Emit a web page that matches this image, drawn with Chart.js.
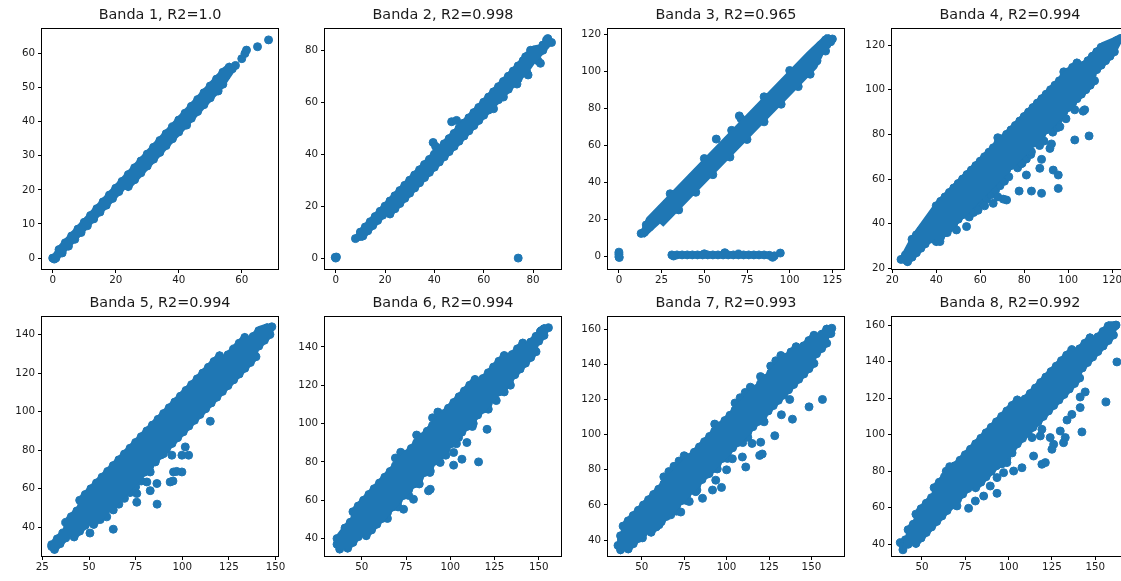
<!DOCTYPE html>
<html>
<head>
<meta charset="utf-8">
<script src="https://cdn.jsdelivr.net/npm/chart.js@4.4.0/dist/chart.umd.min.js"></script>
<style>
html, body { margin: 0; padding: 0; background: #fff; overflow: hidden; }
#fig { position: relative; width: 1121px; height: 581px; overflow: hidden; }
#fig canvas { position: absolute; }
</style>
</head>
<body>
<div id="fig"></div>
<script>
// pontos: bordas das faixas densas, miolo e pontos isolados
// bordaSup / bordaInf: contorno da parte densa de cada faixa (preenchido)

// Banda 1
const banda1 = [
  [0,0],[0.5,-0.3],[2,2.5],[4,4.5],[6,6.5],[8,8.5],[10,10.5],[12,12.5],[14,14.5],[16,16.5],[18,18.5],[20,20.5],[22,22.5],[24,24.5],[26,26.5],[28,28.5],[30,30.5],[32,32.5],[34,34.5],[36,36.5],[38,38.5],[40,40.5],[42,42.5],[44,44.5],[46,46.5],[48,48.5],[50,50.5],[52,52.5],[54,54.5],[56,56],
  [1,0],[3,1.5],[5,3.5],[7,5.5],[9,7.5],[11,9.5],[13,11.5],[15,13.5],[17,15.5],[19,17.5],[21,19.5],[23,21.5],
  [25,23.5],[27,25.5],[29,27.5],[31,29.5],[33,31.5],[35,33.5],[37,35.5],[39,37.5],[41,39.5],[43,41.5],[45,43.5],[47,45.5],[49,47.5],[51,49.5],[53,51.5],[55,53.5],[57,55.5],
  [24,21],[26,23],[28,25],[30,27],[32,29],[34,31],[36,33],[38,35],[40,37],[42,39],[44,41],[46,43],[48,45],[50,47],[52,49],[54,51],
  [42.5,39],[52.5,49],[58,56.5],[60,58.5],[61,60],[61.5,61],[65,62],[68.5,64]
];
const bordaSup1 = [[-0.3,0.8],[2,3.9],[54,55.9],[56,57.4],[57.6,56.5]];
const bordaInf1 = [[-0.3,-0.6],[1,-1.4],[23,20.1],[24,19.6],[54,49.6],[57.6,54.5]];

// Banda 2
const banda2 = [
  [0,0],[0.3,0.4],[-0.2,0.3],[74,0],
  [8,7.5],[10,10],[12,12],[14,14],[16,16],[18,18],[20,20],[22,22],[24,24],[26,26],[28,28],[30,30],[32,32],[34,34],[36,36],[38,38],[40,40],[42,42],[44,44],[46,46],[48,48],[50,50],[52,52],[54,54],[56,56],[58,58],[60,60],[62,62],[64,64],[66,66],[68,68],[70,70],[72,72],[74,74],[76,76],[78,78],[80,80],
  [11,8.5],[13,10.5],[15,12.5],[17,14.5],[19,16.5],[21,18.5],[75,72.5],[77,74.5],[79,76.5],[81,78.5],[83,80.5],
  [22,17],[24,19],[26,21],[28,23],[30,25],[32,27],[34,29],[36,31],[38,33],[40,35],[42,37],[44,39],[46,41],[48,43],[50,45],[52,47],[54,49],[56,51],[58,53],[60,55],[62,57],[66,61],[70,65],[74,69],
  [64,57.5],[62.5,60.5],[68,62],[70,66.5],[73.5,67],[77.5,71.5],[78,70.5],[82,76],[83,75],[84,80],[79,80],[85.5,84],[87.5,83],[77,77.5],[75,74],[86,84.5],[84,82],[81,79],
  [39.5,44.5],[40.5,43],[47,52.5],[49,53]
];
const bordaSup2 = [[7.5,8.5],[10,11.8],[80,81.8],[83,82.3],[85.5,85.8],[88,84]];
const bordaInf2 = [[7.5,6.5],[11,6.7],[21,16.7],[22,15.2],[62,55.2],[66,59.2],[70,63.2],[74,67.2],[78,71.2],[81,75.2],[85,79.2],[88,82.5]];

// Banda 3
const banda3 = [
  [0,0],[0,1.2],[0,2.5],[0.2,-0.4],
  [31,1],[34,1],[37,1],[40,1],[43,1],[46,1],[49,1],[52,1],[55,1],[58,1],[61,1],[64,1],[67,1],[70,1],[73,1],[76,1],[79,1],[82,1],[85,1],[88,0.8],[91,0.5],[62,2.2],[94.5,2],[90,-0.3],[32,0.4],[50,1.6],[70,1.5],
  [13,12.6],[14.5,13],
  [16,17.2],[19,20.1],[22,22.9],[25,25.8],[28,28.6],[31,31.5],[34,34.3],[37,37.2],[40,40],[43,42.9],[46,45.7],[49,48.6],[52,51.4],[55,54.3],[58,57.1],[61,60],[64,62.8],[67,65.7],[70,68.5],[73,71.4],[76,74.2],[79,77.1],[82,79.9],[85,82.8],[88,85.6],[91,88.5],[94,91.3],[97,94.2],[100,97],[103,99.9],[106,102.7],[109,105.6],[112,108.4],[115,111.3],[118,114.1],[121,117],
  [15,13.3],[18,16.1],[21,19],[24,21.8],[120,113],
  [26,20.2],[29,23.1],[32,25.9],[35,28.8],[38,31.6],[41,34.5],[44,37.3],[47,40.2],[50,43],[53,45.9],[56,48.7],[59,51.6],[62,54.4],[65,57.3],[68,60.1],[71,63],[74,65.8],[77,68.7],[80,71.5],[83,74.4],[86,77.2],[89,80.1],[92,82.9],[95,85.8],[98,88.6],[101,91.5],[104,94.3],[107,97.2],[110,100],[113,102.9],[116,105.7],
  [35,25.3],[45,34.8],[55,44.3],[65,53.8],[75,63.3],[85,72.8],[95,82.3],[105,91.8],[112,98.5],
  [30,34],[50,53],[66,68.2],[85,86.3],[100,100.5],
  [57,63.5],[70.5,76],[71.5,74.5],[121,111],[119.5,112.5],[123,117.5],[125,117.5],[124,116]
];
const bordaSup3 = [[12.5,13.5],[16,21],[110,110.5],[121,120],[123,120],[125.5,118.5]];
const bordaInf3 = [[12.5,11.5],[15,10.3],[24,17.8],[26,16.2],[116,101.7],[120,109.5],[124,113],[125.5,116.5]];

// Banda 4
const banda4 = [
  [40,48],[42,50],[44,52],[46,54],[48,56],[50,58],[52,60],[54,62],[56,64],[58,66],[60,68],[62,70],[64,72],[66,74],[68,76],[70,78],[72,80],[74,82],[76,84],[78,86],[80,88],[82,90],[84,92],[86,94],[88,96],[90,98],[92,100],[94,102],[96,104],[98,106],[100,108],[102,110],[104,112],
  [68,78.5],[98,108],[123,122.5],[124,123],
  [29,33],[31,35],[33,37],[35,39],[37,41],[39,43],[105,109],[107,111],[109,113],[111,115],[113,117],[115,119],
  [24,24],[26,26],[28,28],[116,116],[118,118],[120,120],[122,122],
  [27,23],[29,25],[31,27],[33,29],[35,31],[37,33],[39,35],[113,109],[115,111],[117,113],[119,115],[121,117],
  [40,32],[42,34],[44,36],[46,38],[48,40],[50,42],[52,44],[54,46],[56,48],[58,50],[60,52],[62,54],[64,56],[66,58],[68,60],[70,62],[72,64],[74,66],[76,68],[78,70],[80,72],[82,74],[84,76],[86,78],[88,80],[90,82],[92,84],[94,86],[96,88],[98,90],[100,92],[102,94],[104,96],[106,98],[108,100],[110,102],[112,104],
  [55,43],[57,45],[59,47],[61,49],[63,51],[65,53],[67,55],[69,57],[71,59],[73,61],[77,65],[79,67],[81,69],[83,71],[87,75],[89,77],[93,81],[95,83],[99,87],[103,91],
  [106.8,90.4],[107.5,91],[109.5,79.3],[103,77.5],[96.2,83.4],[95.5,86.4],[91.7,73.7],[92.4,75.7],[87,76],[83.3,72.2],[87.9,68.8],[87.1,64.8],[81,61.8],[78.8,67],[93.2,64],[95.5,61.8],[95.5,55.8],[87.9,53.6],[83.3,54.6],[77.7,54.6],[72,50.6],[70.5,51],[65.9,49.1],[59,46],[53.8,38.7],[49.2,37.2],[41.7,32],[45,36],[62,48],[68,52]
];
const bordaSup4 = [[23.5,25],[29,35.1],[40,50.1],[104,114.1],[105,111.1],[115,121.1],[122,124.1],[124.5,123.5]];
const bordaInf4 = [[23.5,23],[27,20.9],[39,32.9],[40,29.9],[112,101.9],[113,106.9],[121,114.9],[124.5,121.5]];

// Banda 5
const banda5 = [
  [45,54],[48,57],[51,60],[54,63],[57,66],[60,69],[63,72],[66,75],[69,78],[72,81],[75,84],[78,87],[81,90],[84,93],[87,96],[90,99],[93,102],[96,105],[99,108],[102,111],[105,114],[108,117],[111,120],[114,123],[117,126],[120,129],
  [37.5,42.5],[40.5,45.5],[43.5,48.5],[121.5,126.5],[124.5,129.5],[127.5,132.5],[130.5,135.5],[133.5,138.5],
  [30,31],[33,34],[36,37],[135,136],[138,139],[141,142],
  [31.5,28.5],[34.5,31.5],[37.5,34.5],[40.5,37.5],
  [42,35],[45,38],[48,41],[51,44],[141,134],[144,137],[147,140],
  [52.5,41.5],[55.5,44.5],[58.5,47.5],[61.5,50.5],[64.5,53.5],[67.5,56.5],[70.5,59.5],[73.5,62.5],[76.5,65.5],[79.5,68.5],[82.5,71.5],[85.5,74.5],[88.5,77.5],[91.5,80.5],[94.5,83.5],[97.5,86.5],[100.5,89.5],[103.5,92.5],[106.5,95.5],[109.5,98.5],[112.5,101.5],[115.5,104.5],[118.5,107.5],[121.5,110.5],[124.5,113.5],[127.5,116.5],[130.5,119.5],[133.5,122.5],[136.5,125.5],[139.5,128.5],
  [63,49],[66,52],[69,55],[72,58],[75,61],[78,64],
  [147,143],[148,144],[145.5,143.5],[30,30],
  [115,95],[86.5,52],[63,39],[50.5,37],[59.5,45.4],[56,44],[75.6,53],[75.6,57.5],[81,63.5],[82.8,59],[86.4,62.7],[82.8,68.7],[85.5,73.9],[89.9,78.2],[94.4,77.4],[99.8,77.4],[101.6,81.7],[103.4,77.4],[95.3,68.7],[93.5,63.5],[99.8,68.7],[97,69],[95,64]
];
const bordaSup5 = [[29.5,30.5],[30,33.4],[36,39.4],[37.5,44.9],[43.5,50.9],[45,56.4],[120,131.4],[121.5,128.9],[133.5,140.9],[135,138.4],[141,144.4],[145.5,145.9],[148.5,144.5]];
const bordaInf5 = [[29.5,29],[31.5,26.1],[40.5,35.1],[42,32.6],[51,41.6],[52.5,39.1],[139.5,126.1],[141,131.6],[147,137.6],[148.5,142.5]];

// Banda 6
const banda6 = [
  [45,54],[48,57],[51,60],[54,63],[57,66],[60,69],[63,72],[66,75],[69,78],[72,81],[75,84],[78,87],[81,90],[84,93],[87,96],[90,99],[93,102],[96,105],[99,108],[102,111],[105,114],[108,117],[111,120],[114,123],
  [69,82],[72,85],[81,94],[90,103],[93,106],
  [40.5,45.5],[43.5,48.5],[115.5,120.5],[118.5,123.5],[121.5,126.5],[124.5,129.5],[127.5,132.5],[130.5,135.5],
  [36,37],[39,40],[132,133],[135,136],[138,139],[141,142],
  [37.5,34.5],[40.5,37.5],[142.5,139.5],[145.5,142.5],[148.5,145.5],[151.5,148.5],
  [42,35],[45,38],[48,41],[51,44],[150,143],[153,146],
  [52.5,41.5],[55.5,44.5],[58.5,47.5],[61.5,50.5],[64.5,53.5],[67.5,56.5],[70.5,59.5],[73.5,62.5],[76.5,65.5],[79.5,68.5],[82.5,71.5],[85.5,74.5],[88.5,77.5],[91.5,80.5],[94.5,83.5],[97.5,86.5],[100.5,89.5],[103.5,92.5],[106.5,95.5],[109.5,98.5],[112.5,101.5],[115.5,104.5],[118.5,107.5],[121.5,110.5],[124.5,113.5],[127.5,116.5],[130.5,119.5],[133.5,122.5],[136.5,125.5],[139.5,128.5],[142.5,131.5],[145.5,134.5],[148.5,137.5],
  [64.5,50.5],[70.5,56.5],[76.5,62.5],[82.5,68.5],[88.5,74.5],[97.5,83.5],[103.5,89.5],[112.5,98.5],[121.5,107.5],[130.5,116.5],
  [155.5,150],[153,149.5],[151,148],[36,40],[37.5,36.5],
  [120.8,97],[116,80],[101.9,78.3],[106.6,81.4],[101.9,84.9],[109.4,90.1],[104.7,92.7],[134,120],[122.6,114.4],[93.4,83.1],[88.7,75.3],[88.7,65.7],[87.7,64.9],[79.2,60.5],[73.6,55.3],[71.7,62.3],[94.3,79.7],[66,57],[62.3,51.8],[52.8,44.9],[81.1,70.1],[113,100],[126,112]
];
const bordaSup6 = [[35.5,37],[36,42.4],[40.5,47.9],[43.5,50.9],[45,56.4],[114,125.4],[115.5,122.9],[130.5,137.9],[132,135.4],[141,144.4],[142.5,141.9],[151.5,150.9],[153,151.9],[156,150.5]];
const bordaInf6 = [[35.5,36],[37.5,32.1],[40.5,35.1],[42,32.6],[51,41.6],[52.5,39.1],[148.5,135.1],[150,140.6],[153,143.6],[156,148.5]];

// Banda 7
const banda7 = [
  [39,48],[42,51],[45,54],[48,57],[51,60],[54,63],[57,66],[60,69],[63,72],[66,75],[69,78],[72,81],[75,84],[78,87],[81,90],[84,93],[87,96],[90,99],[93,102],[96,105],[99,108],[102,111],[105,114],[108,117],[111,120],[114,123],[117,126],[120,129],[123,132],[126,135],[129,138],[132,141],[135,144],[138,147],[141,150],
  [63,76],[66,79],[69,82],[72,85],[75,88],[93,106],[105,118],[108,121],[111,124],[114,127],[120,133],[126,139],[129,142],[132,145],
  [37.5,42.5],[142.5,147.5],[145.5,150.5],[148.5,153.5],[151.5,156.5],
  [36,37],[153,154],[156,157],[159,160],
  [37.5,34.5],[40.5,37.5],[154.5,151.5],[157.5,154.5],[160.5,157.5],
  [42,35],[45,38],[48,41],[51,44],[54,47],[153,146],[156,149],[159,152],
  [55.5,44.5],[58.5,47.5],[61.5,50.5],[64.5,53.5],[67.5,56.5],[70.5,59.5],[73.5,62.5],[76.5,65.5],[79.5,68.5],[82.5,71.5],[85.5,74.5],[88.5,77.5],[91.5,80.5],[94.5,83.5],[97.5,86.5],[100.5,89.5],[103.5,92.5],[106.5,95.5],[109.5,98.5],[112.5,101.5],[115.5,104.5],[118.5,107.5],[121.5,110.5],[124.5,113.5],[127.5,116.5],[130.5,119.5],[133.5,122.5],[136.5,125.5],[139.5,128.5],[142.5,131.5],[145.5,134.5],[148.5,137.5],[151.5,140.5],
  [70.5,56.5],[76.5,62.5],[82.5,68.5],[94.5,80.5],[100.5,86.5],[109.5,95.5],[112.5,98.5],
  [162,160.5],[160.5,159],[161.5,157.5],[37,37],[38,40],
  [137.2,120],[156.5,120],[148.6,115.8],[138.8,108.8],[132.3,111.3],[128.4,99.4],[122.1,107.3],[120.1,95.7],[119.5,88.2],[121,89],[111.3,81.6],[109.3,87.3],[103.4,86.3],[93.6,74.1],[91.7,68.5],[85.8,63.8],[81.8,67.6],[67.1,54.4],[60.2,48.8],[50.4,41.3],[89.7,77.9],[115,95],[100,80],[97,70],[78,62],[73,56]
];
const bordaSup7 = [[35.5,37.5],[37.5,45.1],[39,50.6],[141,152.6],[142.5,150.1],[151.5,159.1],[153,156.6],[159,162.6],[162.5,161]];
const bordaInf7 = [[35.5,36],[37.5,31.9],[40.5,34.9],[42,32.4],[54,44.4],[55.5,41.9],[151.5,137.9],[153,143.4],[159,149.4],[160.5,154.9],[162.5,159]];

// Banda 8
const banda8 = [
  [57,71],[60,74],[63,77],[66,80],[69,83],[72,86],[75,89],[78,92],[81,95],[84,98],[87,101],[90,104],[93,107],[96,110],[99,113],[102,116],[105,119],
  [64,80],[66,82.5],
  [46.5,56.5],[49.5,59.5],[52.5,62.5],[55.5,65.5],[106.5,116.5],[109.5,119.5],[112.5,122.5],[115.5,125.5],[118.5,128.5],[121.5,131.5],[124.5,134.5],[127.5,137.5],[130.5,140.5],[133.5,143.5],[136.5,146.5],
  [42,48],[45,51],[138,144],[141,147],[144,150],[147,153],
  [40.5,42.5],[148.5,150.5],[151.5,153.5],[154.5,156.5],[157.5,159.5],
  [39,37],[42,40],[45,43],[162,160],
  [46.5,40.5],[49.5,43.5],[52.5,46.5],[55.5,49.5],[58.5,52.5],[61.5,55.5],[64.5,58.5],[67.5,61.5],[70.5,64.5],[73.5,67.5],[76.5,70.5],[79.5,73.5],[142.5,136.5],[145.5,139.5],[148.5,142.5],[151.5,145.5],[154.5,148.5],[157.5,151.5],[160.5,154.5],
  [81,71],[84,74],[87,77],[90,80],[93,83],[96,86],[99,89],[102,92],[105,95],[108,98],[111,101],[114,104],[117,107],[120,110],[123,113],[126,116],[129,119],[132,122],[135,125],[138,128],[141,131],
  [96,84],[99,87],[102,90],
  [161.5,159.5],[160,158],[37.5,40.9],[39.4,39.1],
  [162.5,139.8],[156.2,117.9],[141.3,120.6],[144.2,123.4],[141.3,114.8],[136.5,111.1],[133.7,108],[142.3,101.5],[132.7,98.4],[131.7,95.6],[129.8,102],[126,94.7],[124,98.4],[125,92],[118.3,99.3],[119.2,102.9],[113.5,98.4],[114.4,88.3],[119.2,83.8],[121.2,84.7],[107.7,81.9],[102.9,80.1],[99,84.7],[97.1,79.2],[93.3,76.5],[89.4,71.9],[93.3,67.9],[85.6,66.4],[80.8,63.7],[76.9,59.7],[70.2,61]
];
const bordaSup8 = [[38.5,37.5],[40.5,45.1],[42,50.6],[45,53.6],[46.5,59.1],[55.5,68.1],[57,73.6],[105,121.6],[106.5,119.1],[136.5,149.1],[138,146.6],[147,155.6],[148.5,153.1],[157.5,162.1],[161.5,162.1],[162.5,160.5]];
const bordaInf8 = [[38.5,36],[45,40.4],[46.5,37.9],[79.5,70.9],[81,68.4],[141,128.4],[142.5,133.9],[160.5,151.9],[162.5,158.5]];

const titulos = ['Banda 1, R2=1.0', 'Banda 2, R2=0.998', 'Banda 3, R2=0.965', 'Banda 4, R2=0.994',
                 'Banda 5, R2=0.994', 'Banda 6, R2=0.994', 'Banda 7, R2=0.993', 'Banda 8, R2=0.992'];
const bandas = [banda1, banda2, banda3, banda4, banda5, banda6, banda7, banda8];
const bordasSup = [bordaSup1, bordaSup2, bordaSup3, bordaSup4, bordaSup5, bordaSup6, bordaSup7, bordaSup8];
const bordasInf = [bordaInf1, bordaInf2, bordaInf3, bordaInf4, bordaInf5, bordaInf6, bordaInf7, bordaInf8];
const limitesX = [[-3.4, 71.5], [-4.35, 91.35], [-6.4, 131.8], [19.9, 127.2], [24.8, 151.3], [29.2, 162.6], [30.1, 169.2], [32.7, 168.9]];
const limitesY = [[-3.2, 67.2], [-4.2, 88.2], [-6.6, 122.9], [19.7, 127.2], [25.1, 149.1], [30.9, 155.6], [31, 166.9], [33.6, 164.4]];
const passoX = [20, 20, 25, 20, 25, 25, 25, 25];
const passoY = [10, 20, 20, 20, 20, 20, 20, 20];

// posição dos eixos na figura
const colEsq = [42, 325, 608, 892];
const linTopo = [29, 317];
const linAlt = [240, 239];
const larg = 236;
const yEixoW = 40, tituloH = 29, xEixoH = 26, dirPad = 10;

const moldura = {
  id: 'moldura',
  afterDatasetsDraw(chart) {
    const a = chart.chartArea, ctx = chart.ctx;
    ctx.save();
    ctx.strokeStyle = '#000';
    ctx.lineWidth = 1;
    ctx.strokeRect(Math.round(a.left) - 0.5, Math.round(a.top) - 0.5, Math.round(a.right - a.left) + 1, Math.round(a.bottom - a.top) + 1);
    ctx.restore();
  }
};

const fonteTick = { family: 'DejaVu Sans', size: 10.3 };
const azul = '#1f77b4';
const xy = p => ({ x: p[0], y: p[1] });
const fig = document.getElementById('fig');

for (let i = 0; i < 8; i++) {
  const col = i % 4, lin = Math.floor(i / 4);
  const cv = document.createElement('canvas');
  const w = yEixoW + larg + dirPad, h = tituloH + linAlt[lin] + xEixoH;
  cv.width = w; cv.height = h;
  cv.style.left = (colEsq[col] - yEixoW) + 'px';
  cv.style.top = (linTopo[lin] - tituloH) + 'px';
  fig.appendChild(cv);

  new Chart(cv.getContext('2d'), {
    type: 'scatter',
    data: {
      datasets: [{
        type: 'line',
        data: bordasSup[i].map(xy),
        showLine: true, borderWidth: 0, pointRadius: 0,
        backgroundColor: azul, borderColor: azul,
        fill: '+1', tension: 0
      }, {
        type: 'line',
        data: bordasInf[i].map(xy),
        showLine: true, borderWidth: 0, pointRadius: 0,
        backgroundColor: azul, borderColor: azul,
        fill: false, tension: 0
      }, {
        data: bandas[i].map(xy),
        backgroundColor: azul, borderColor: azul, borderWidth: 1,
        pointRadius: 4, pointHoverRadius: 4
      }]
    },
    options: {
      responsive: false,
      animation: false,
      events: [],
      layout: { padding: { left: 0, right: dirPad, top: 0, bottom: 0 } },
      plugins: {
        legend: { display: false },
        tooltip: { enabled: false },
        title: {
          display: true,
          fullSize: false,
          text: titulos[i],
          color: '#1a1a1a',
          font: { family: 'DejaVu Sans', size: 14.4, weight: 'normal', lineHeight: 1.2 },
          padding: { top: 7, bottom: 4.7 }
        }
      },
      scales: {
        x: {
          type: 'linear',
          min: limitesX[i][0], max: limitesX[i][1],
          ticks: { stepSize: passoX[i], includeBounds: false, autoSkip: false, maxRotation: 0, font: fonteTick, color: '#1a1a1a', padding: 1 },
          grid: { drawOnChartArea: false, drawTicks: true, tickLength: 4, color: '#000', lineWidth: 1 },
          border: { display: false },
          afterFit: s => { s.height = xEixoH; }
        },
        y: {
          type: 'linear',
          min: limitesY[i][0], max: limitesY[i][1],
          ticks: { stepSize: passoY[i], includeBounds: false, autoSkip: false, font: fonteTick, color: '#1a1a1a', padding: 3 },
          grid: { drawOnChartArea: false, drawTicks: true, tickLength: 4, color: '#000', lineWidth: 1 },
          border: { display: false },
          afterFit: s => { s.width = yEixoW; }
        }
      }
    },
    plugins: [moldura]
  });
}
</script>
</body>
</html>
